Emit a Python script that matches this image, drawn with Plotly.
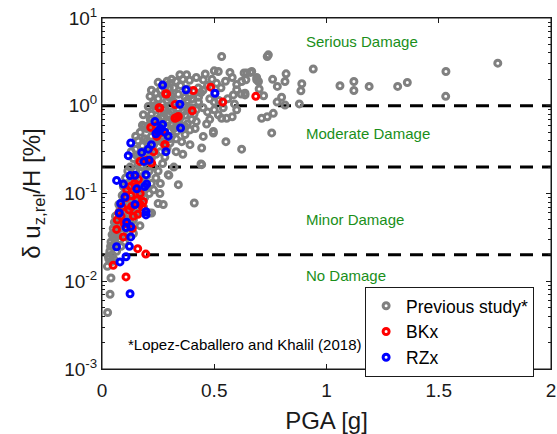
import math
import plotly.graph_objects as go

# ---------------- data ----------------
prev_pga = [0.025,0.036,0.04,0.024,0.028,0.043,0.035,0.05,0.04,0.055,0.045,0.06,0.05,0.065,0.055,0.07,0.06,0.075,0.03,0.045,0.06,0.07,0.038,0.052,0.065,
            0.08,0.09,0.085,0.1,0.095,0.11,0.08,0.1,0.12,0.09,0.11,0.125,0.1,0.115,0.13,0.095,0.12,0.105,0.13,0.115,0.125,0.085,0.1,0.12,0.075,0.13,0.11,0.09,
            0.14,0.15,0.16,0.14,0.17,0.15,0.18,0.16,0.19,0.14,0.17,0.2,0.15,0.18,0.16,0.19,0.14,0.17,0.2,0.15,0.18,0.16,0.19,0.17,0.2,0.18,0.15,0.13,0.2,0.19,0.21,0.169,0.221,0.14,0.185,0.165,0.2,0.155,
            0.21,0.22,0.23,0.24,0.25,0.258,0.273,0.21,0.23,0.25,0.27,0.22,0.24,0.26,0.28,0.21,0.23,0.25,0.27,0.29,0.22,0.24,0.26,0.28,0.3,0.21,0.23,0.25,0.27,0.29,0.22,0.24,0.26,0.28,0.3,0.214,0.206,0.184,0.191,0.23,0.25,0.27,0.29,0.24,0.26,0.28,0.3,0.27,0.25,0.29,0.22,0.295,0.298,0.26,
            0.303,0.347,0.377,0.31,0.33,0.36,0.39,0.42,0.451,0.429,0.32,0.35,0.38,0.41,0.44,0.31,0.34,0.37,0.4,0.43,0.32,0.36,0.39,0.42,0.45,0.31,0.34,0.37,0.4,0.33,0.42,0.392,0.333,0.31,0.37,0.451,0.303,0.355,0.392,0.444,0.444,0.34,0.35,0.38,0.415,0.33,0.36,0.411,0.441,0.32,
            0.466,0.496,0.496,0.552,0.518,0.533,0.555,0.622,0.533,0.518,0.57,0.633,0.622,0.6,0.637,0.585,0.503,0.47,0.49,0.51,0.53,0.55,0.58,0.6,0.48,0.5,0.52,0.56,0.47,0.5,0.54,0.59,0.62,0.46,0.5,0.48,0.6,0.58,
            0.645,0.662,0.667,0.689,0.697,0.641,0.689,0.637,0.741,0.736,0.781,0.711,0.736,0.763,0.756,0.82,0.815,0.815,0.879,0.89,0.886,0.941,1.06,1.122,1.122,1.19,1.317,1.36,1.532,1.531,1.763,0.72,0.78,0.8,0.7,0.76,
            0.2,0.22,0.24,0.26,0.28,0.3,0.32,0.34,0.36,0.38,0.4,0.33,0.35,0.37,0.39,0.41,0.43,0.45,0.18,0.17,0.16,0.12,0.11,0.08,0.07,0.06,0.05,
            0.215,0.235,0.255,0.275,0.295,0.225,0.245,0.265,0.285,0.305,0.235,0.275,0.315,0.345]
prev_drift = [0.0044,0.0071,0.0109,0.0148,0.0194,0.0168,0.022,0.025,0.028,0.03,0.034,0.036,0.04,0.042,0.047,0.05,0.055,0.06,0.018,0.02,0.027,0.033,0.025,0.018,0.022,
              0.03,0.035,0.045,0.04,0.055,0.05,0.065,0.07,0.065,0.08,0.09,0.085,0.1,0.11,0.1,0.12,0.13,0.15,0.16,0.18,0.2,0.025,0.028,0.035,0.075,0.045,0.06,0.095,
              0.05,0.06,0.07,0.08,0.085,0.1,0.1,0.12,0.13,0.14,0.15,0.16,0.18,0.2,0.22,0.24,0.25,0.28,0.3,0.32,0.35,0.4,0.42,0.5,0.55,0.6,0.45,0.3,0.2,0.09,0.06,0.043,0.06,0.035,0.07,0.095,0.12,0.27,
              0.1,0.13,0.11,0.15,0.077,0.1,0.075,0.18,0.2,0.18,0.22,0.25,0.28,0.3,0.26,0.32,0.36,0.4,0.38,0.33,0.45,0.5,0.55,0.48,0.42,0.6,0.65,0.7,0.75,0.65,0.8,0.9,0.85,0.95,0.8,1.28,0.98,0.79,0.58,1.1,1.2,1.05,1.15,1.4,1.5,1.35,1.6,1.7,1.85,1.9,1.5,0.164,0.161,0.13,
              1.81,2.26,2.26,2.0,1.9,2.0,1.95,2.1,1.98,1.59,1.6,1.7,1.55,1.45,1.4,1.3,1.35,1.25,1.2,1.1,1.1,1.0,0.95,0.9,0.95,0.85,0.8,0.78,0.7,0.66,0.66,0.53,0.51,0.45,0.47,0.447,0.376,0.39,0.36,0.33,0.213,0.126,0.6,0.62,0.55,0.3,0.28,0.078,0.217,0.2,
              0.62,0.51,0.489,0.39,0.79,0.72,0.72,0.32,3.64,2.46,2.4,2.36,1.89,1.52,1.39,1.33,1.39,1.7,2.0,1.8,1.6,1.9,2.1,1.75,1.2,1.1,1.15,1.2,0.85,0.9,0.95,1.05,1.36,2.3,2.5,0.7,0.9,0.75,
              2.36,2.4,2.46,2.1,1.89,1.98,1.98,1.33,3.8,3.64,1.66,0.72,0.75,0.82,0.49,2.31,1.89,1.02,1.05,1.78,1.48,2.62,1.69,1.89,1.49,1.66,1.66,1.84,2.46,1.28,3.06,1.3,1.1,1.25,1.55,2.0,
              0.4,0.7,1.0,0.6,1.6,1.25,0.55,0.9,0.85,1.15,0.95,0.42,0.75,0.58,1.3,0.8,1.25,1.5,0.3,0.18,0.11,0.075,0.04,0.05,0.038,0.045,0.032,
              0.7,0.55,0.62,0.45,0.68,0.35,0.42,0.72,0.58,0.52,1.0,0.9,0.62,0.7]

bk_pga = [0.288,0.407,0.484,0.538,0.685,0.402,0.254,0.33,0.34,0.325,0.217,0.28,0.284,0.325,0.258,0.244,0.281,0.244,0.221,0.169,0.2,0.162,0.125,0.184,0.132,0.16,0.14,0.068,0.107,0.095,0.065,0.195,0.159,0.107,0.05,0.15,0.17,0.155,0.12,0.075,0.145,0.23,0.265,0.1,0.09,0.18,0.135,0.11,0.13,0.085,0.145,0.17]
bk_drift = [1.36,1.49,1.63,1.10,1.28,0.877,0.95,0.73,0.755,0.72,0.566,0.36,1.37,1.03,0.94,0.447,0.36,0.59,0.222,0.232,0.24,0.144,0.12,0.081,0.071,0.058,0.055,0.05,0.09,0.032,0.039,0.0204,0.0235,0.0112,0.0152,0.12,0.1,0.085,0.065,0.06,0.16,0.3,0.5,0.045,0.07,0.07,0.04,0.11,0.095,0.055,0.13,0.075]

rz_pga = [0.27,0.374,0.347,0.35,0.236,0.27,0.25,0.295,0.285,0.128,0.117,0.177,0.206,0.187,0.196,0.147,0.125,0.065,0.095,0.199,0.155,0.102,0.083,0.147,0.077,0.196,0.196,0.11,0.107,0.128,0.128,0.065,0.122,0.107,0.08,0.125,0.26,0.22,0.19,0.24,0.21,0.28,0.503]
rz_drift = [1.72,1.52,1.04,0.557,0.66,0.61,0.51,0.45,0.30,0.376,0.27,0.294,0.32,0.232,0.164,0.161,0.16,0.141,0.128,0.128,0.113,0.091,0.077,0.075,0.06,0.062,0.057,0.047,0.041,0.042,0.032,0.0247,0.025,0.019,0.0166,0.0072,0.55,0.36,0.12,0.48,0.24,0.5,1.39]

damage_limits = [1.0, 0.2, 0.02]
damage_labels = ["Serious Damage", "Moderate Damage", "Minor Damage", "No Damage"]
damage_label_y = [5.36, 0.48, 0.0503, 0.0116]
damage_label_x = 0.90

x_ticks = [0, 0.5, 1, 1.5, 2]
x_tick_text = ["0", "0.5", "1", "1.5", "2"]
y_ticks = [1e-3, 1e-2, 1e-1, 1e0, 1e1]
y_tick_text = ["10<sup>-3</sup>", "10<sup>-2</sup>", "10<sup>-1</sup>", "10<sup>0</sup>", "10<sup>1</sup>"]

# ---------------- figure ----------------
FONT = "Liberation Sans, Arial, Helvetica, sans-serif"
AX = "#1a1a1a"
GREEN = "#1a8f1a"

fig = go.Figure()

for lim in damage_limits:
    fig.add_trace(go.Scatter(x=[0, 2], y=[lim, lim], mode="lines",
                             line=dict(color="black", width=3, dash="13px,9px"),
                             showlegend=False, hoverinfo="skip"))

mk = dict(symbol="circle-open", size=6)
fig.add_trace(go.Scatter(x=prev_pga, y=prev_drift, mode="markers", name="Previous study*",
                         marker=dict(**mk, color="#808080", line=dict(width=3, color="#808080"))))
fig.add_trace(go.Scatter(x=bk_pga, y=bk_drift, mode="markers", name="BKx",
                         marker=dict(**mk, color="#ff0000", line=dict(width=3, color="#ff0000"))))
fig.add_trace(go.Scatter(x=rz_pga, y=rz_drift, mode="markers", name="RZx",
                         marker=dict(**mk, color="#0000ff", line=dict(width=3, color="#0000ff"))))

for txt, yv in zip(damage_labels, damage_label_y):
    fig.add_annotation(x=damage_label_x, y=math.log10(yv), xref="x", yref="y", text=txt,
                       showarrow=False, xanchor="left", yanchor="middle",
                       font=dict(family=FONT, size=15, color=GREEN))

fig.add_annotation(x=0.053, y=0.071, xref="paper", yref="paper",
                   text="*Lopez-Caballero and Khalil (2018)", showarrow=False,
                   xanchor="left", yanchor="middle", font=dict(family=FONT, size=15, color="black"))

# plot frame
fig.add_shape(type="rect", xref="paper", yref="paper", x0=0, x1=1, y0=0, y1=1,
              line=dict(color=AX, width=1), fillcolor="rgba(0,0,0,0)", layer="above")

minor_vals = [m * 10.0 ** e for e in range(-3, 1) for m in range(2, 10)]

fig.update_xaxes(range=[0, 2], tickvals=x_ticks, ticktext=x_tick_text, automargin=False,
                 ticks="inside", ticklen=5, tickwidth=1, tickcolor=AX, showline=True, linecolor=AX, linewidth=1,
                 mirror="allticks", showgrid=False, zeroline=False, ticklabelstandoff=4,
                 tickfont=dict(family=FONT, size=19, color=AX),
                 title=dict(text="PGA [g]", font=dict(family=FONT, size=24, color=AX), standoff=14))
fig.update_yaxes(type="log", range=[-3, 1], tickvals=y_ticks, ticktext=y_tick_text, automargin=False,
                 ticks="inside", ticklen=5, tickwidth=1, tickcolor=AX, showline=True, linecolor=AX, linewidth=1,
                 mirror="allticks", showgrid=False, zeroline=False,
                 minor=dict(tickvals=minor_vals, ticks="inside", ticklen=3, tickwidth=1, tickcolor=AX, showgrid=False),
                 tickfont=dict(family=FONT, size=19, color=AX),
                 title=dict(text="δ u<sub>z,rel</sub>/H [%]", font=dict(family=FONT, size=24, color=AX), standoff=16))

fig.update_layout(width=557, height=434, margin=dict(l=102, r=6, t=18, b=65),
                  plot_bgcolor="white", paper_bgcolor="white",
                  legend=dict(x=0.586, y=0.234, xanchor="left", yanchor="top",
                              bgcolor="white", bordercolor=AX, borderwidth=1,
                              font=dict(family=FONT, size=17.5, color="black"),
                              itemsizing="trace", tracegroupgap=0),
                  showlegend=True)

fig.write_html("out.html", config={"displayModeBar": False},
               post_script="document.body.style.margin='0';")
